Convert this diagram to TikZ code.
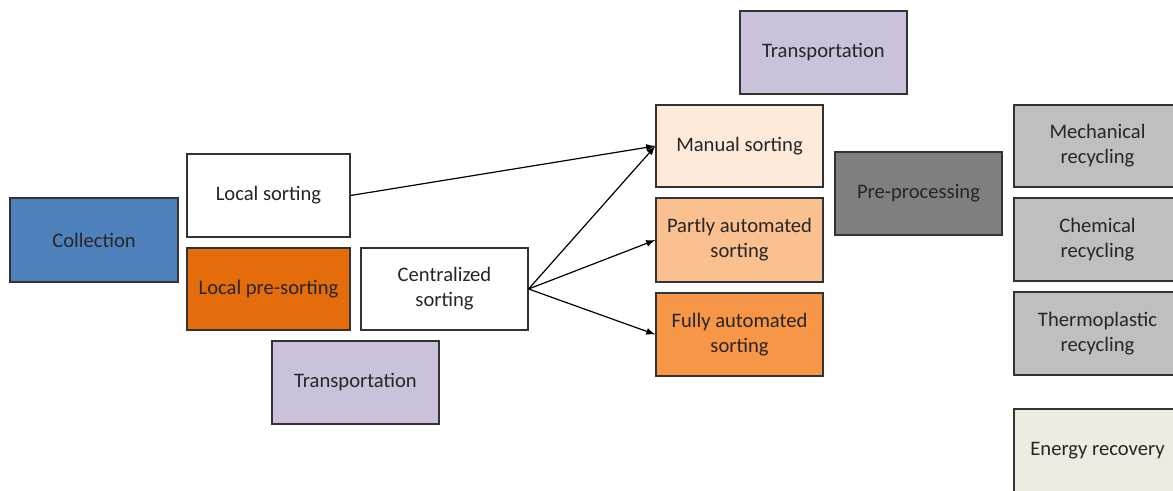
\documentclass[tikz,border=0pt]{standalone}
\usepackage{fontspec}
\setmainfont{Carlito}
\definecolor{collblue}{HTML}{4F81BD}
\definecolor{preorange}{HTML}{E46C0A}
\definecolor{translav}{HTML}{CCC1DA}
\definecolor{manpeach}{HTML}{FDEADA}
\definecolor{partpeach}{HTML}{FAC090}
\definecolor{fullorange}{HTML}{F79646}
\definecolor{pregray}{HTML}{7F7F7F}
\definecolor{recgray}{HTML}{BFBFBF}
\definecolor{energybeige}{HTML}{EEECE1}
\tikzset{
  stage/.style={draw=black!80, line width=0.6pt, rectangle, align=center,
    minimum width=83.5pt, minimum height=41.5pt, inner sep=1pt,
    text=black!85, font=\fontsize{10.3}{12.5}\selectfont},
}
\begin{document}
\begin{tikzpicture}[x=0.5pt, y=-0.5pt]
    \useasboundingbox (0,0) rectangle (1173,491);
    % first steps
    \node[stage, fill=collblue, minimum width=84pt, minimum height=42pt] (coll) at (94,240) {Collection};
    \node[stage, fill=white, minimum width=81.5pt] (locs) at (268.5,195.5) {Local sorting};
    \node[stage, fill=preorange, minimum width=81.5pt, minimum height=41pt] (lpre) at (268.5,289) {Local pre-sorting};
    \node[stage, fill=white, minimum height=41pt] (cent) at (444.5,289) {Centralized\\sorting};
    \node[stage, fill=translav] (trbot) at (355.5,382.5) {Transportation};
    % the sorting options
    \node[stage, fill=translav] (trtop) at (823.5,52.5) {Transportation};
    \node[stage, fill=manpeach, minimum height=41pt] (man) at (739.5,146) {Manual sorting};
    \node[stage, fill=partpeach, minimum height=42pt] (part) at (739.5,240) {Partly automated\\sorting};
    \node[stage, fill=fullorange] (full) at (739.5,334.5) {Fully automated\\sorting};
    \node[stage, fill=pregray] (pre) at (918.5,193.5) {Pre-processing};
    % the end of life routes
    \node[stage, fill=recgray, minimum height=41pt] (mech) at (1097.5,146) {Mechanical\\recycling};
    \node[stage, fill=recgray] (chem) at (1097.5,239.5) {Chemical\\recycling};
    \node[stage, fill=recgray] (therm) at (1097.5,333.5) {Thermoplastic\\recycling};
    \node[stage, fill=energybeige] (energy) at (1097.5,450.5) {Energy recovery};
    % draw the arrows
    \draw[-latex, line width=0.6pt] (locs.east) -- (man.west);
    \draw[-latex, line width=0.6pt] (cent.east) -- (man.west);
    \draw[-latex, line width=0.6pt] (cent.east) -- (part.west);
    \draw[-latex, line width=0.6pt] (cent.east) -- (full.west);
\end{tikzpicture}
\end{document}
